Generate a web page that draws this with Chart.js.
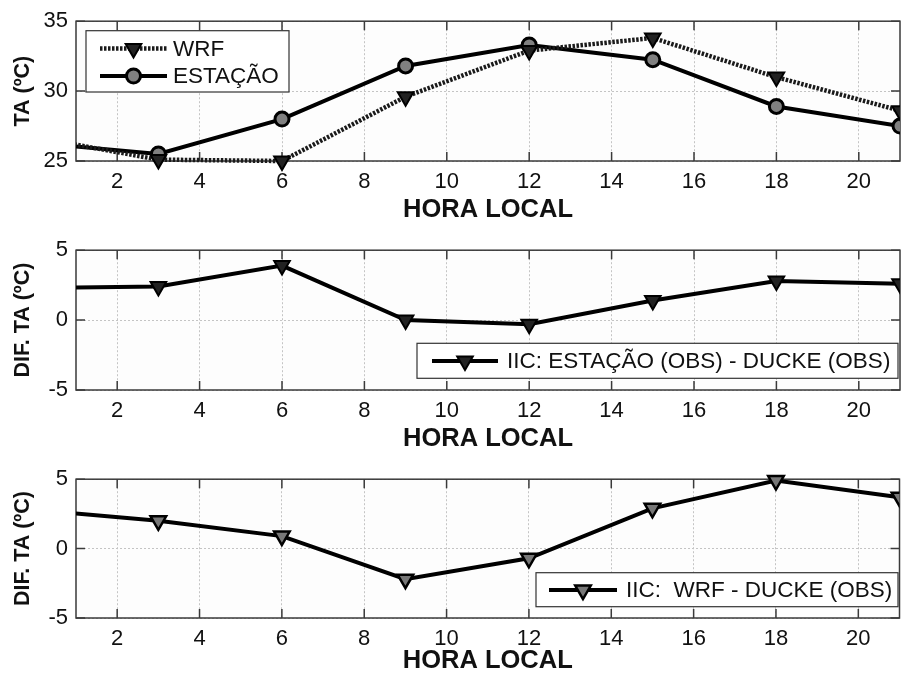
<!DOCTYPE html>
<html>
<head>
<meta charset="utf-8">
<script src="https://cdn.jsdelivr.net/npm/chart.js@4.4.1/dist/chart.umd.min.js"></script>
<style>
  html, body { margin: 0; padding: 0; background: #fff; overflow: hidden; width: 906px; height: 679px; }
  canvas { position: absolute; left: 0; }
</style>
</head>
<body>
<canvas id="c1" width="911" height="229" style="top:0"></canvas>
<canvas id="c2" width="911" height="229" style="top:229px"></canvas>
<canvas id="c3" width="911" height="221" style="top:458px"></canvas>
<script>
/* ── data ── */
const hours = [0, 3, 6, 9, 12, 15, 18, 21];
const hourTicks = [2, 4, 6, 8, 10, 12, 14, 16, 18, 20];
const taTicks = [25, 30, 35];
const difTicks = [-5, 0, 5];
const wrf = [26.7, 25.1, 25.0, 29.6, 32.9, 33.8, 31.0, 28.6];
const estacao = [26.3, 25.5, 28.0, 31.8, 33.3, 32.25, 28.9, 27.5];
const difObs = [2.3, 2.4, 3.9, 0.0, -0.3, 1.4, 2.8, 2.6];
const difWrf = [2.8, 2.0, 0.9, -2.2, -0.7, 2.9, 4.9, 3.7];

const FONT = "'Liberation Sans', Arial, sans-serif";
Chart.defaults.font.family = FONT;
Chart.defaults.color = '#111';

const pts = vals => hours.map((h, i) => ({ x: h, y: vals[i] }));

/* ── plot box, inward ticks ── */
const framePlugin = {
  id: 'frame',
  beforeDraw(chart) {
    const { ctx, chartArea: a } = chart;
    ctx.save();
    ctx.fillStyle = '#fdfdfd';
    ctx.fillRect(a.left, a.top, a.width, a.height);
    ctx.restore();
  },
  beforeDatasetsDraw(chart) {
    const { ctx, chartArea: a, scales: { x, y } } = chart;
    ctx.save();
    ctx.strokeStyle = '#3a3a3a';
    ctx.lineWidth = 1.5;
    ctx.strokeRect(a.left, a.top, a.width, a.height);
    ctx.beginPath();
    x.ticks.forEach(t => {
      const px = x.getPixelForValue(t.value);
      ctx.moveTo(px, a.top); ctx.lineTo(px, a.top + 9);
      ctx.moveTo(px, a.bottom); ctx.lineTo(px, a.bottom - 9);
    });
    y.ticks.forEach(t => {
      const py = y.getPixelForValue(t.value);
      ctx.moveTo(a.left, py); ctx.lineTo(a.left + 9, py);
      ctx.moveTo(a.right, py); ctx.lineTo(a.right - 9, py);
    });
    ctx.stroke();
    ctx.restore();
  }
};

/* ── boxed legend inside the axes ── */
const legendBox = {
  id: 'legendBox',
  afterDraw(chart, args, o) {
    if (!o.rows) return;
    const { ctx } = chart;
    ctx.save();
    ctx.fillStyle = '#fff';
    ctx.fillRect(o.x, o.y, o.w, o.h);
    ctx.strokeStyle = '#333';
    ctx.lineWidth = 1.2;
    ctx.strokeRect(o.x, o.y, o.w, o.h);
    o.rows.forEach(r => {
      const ds = chart.data.datasets[r.index];
      ctx.strokeStyle = ds.borderColor;
      ctx.lineWidth = ds.borderWidth;
      ctx.setLineDash(ds.borderDash || []);
      ctx.beginPath(); ctx.moveTo(r.x0, r.y); ctx.lineTo(r.x1, r.y); ctx.stroke();
      ctx.setLineDash([]);
      ctx.fillStyle = ds.pointBackgroundColor;
      ctx.strokeStyle = ds.pointBorderColor;
      ctx.lineWidth = ds.pointBorderWidth;
      Chart.helpers.drawPoint(ctx, {
        pointStyle: ds.pointStyle, rotation: ds.pointRotation || 0,
        radius: ds.pointRadius, borderWidth: ds.pointBorderWidth
      }, (r.x0 + r.x1) / 2, r.y);
      ctx.fillStyle = '#111';
      ctx.font = '22.5px ' + FONT;
      ctx.textBaseline = 'middle';
      ctx.fillText(ds.label, r.tx, r.y + 1);
    });
    ctx.restore();
  }
};

function xScale(h, titlePad) {
  return {
    type: 'linear', min: 1, max: 21,
    afterBuildTicks: s => { s.ticks = hourTicks.map(v => ({ value: v })); },
    afterFit: s => { s.height = h; },
    grid: { drawTicks: false, color: '#c4c4c4', lineWidth: 1 },
    border: { display: false, dash: [2, 2] },
    ticks: { padding: 8, font: { size: 22 } },
    title: { display: true, text: 'HORA LOCAL', font: { size: 25.5, weight: 'bold' }, padding: { top: 0, bottom: titlePad } }
  };
}

function yScale(min, max, ticks, title) {
  return {
    min, max,
    afterBuildTicks: s => { s.ticks = ticks.map(v => ({ value: v })); },
    afterFit: s => { s.width = 76; },
    grid: { drawTicks: false, color: '#c4c4c4', lineWidth: 1 },
    border: { display: false, dash: [2, 2] },
    ticks: { padding: 8, font: { size: 22 } },
    title: { display: true, text: title, font: { size: 21.5, weight: 'bold' }, padding: { top: 10, bottom: 0 } }
  };
}

const markerClip = { left: 0, right: 0, top: 12, bottom: 12 };

function lineSet(label, vals, style) {
  return Object.assign({
    label, data: pts(vals), tension: 0, borderColor: '#000', borderWidth: 4,
    pointBorderColor: '#000', clip: markerClip
  }, style);
}

function makeChart(id, datasets, y, xh, titlePad, legend) {
  return new Chart(document.getElementById(id), {
    type: 'line',
    data: { datasets },
    options: {
      responsive: false, animation: false,
      layout: { padding: { top: 19, right: 1, left: 0, bottom: 0 } },
      scales: { x: xScale(xh, titlePad), y },
      plugins: { legend: { display: false }, tooltip: { enabled: false }, legendBox: legend }
    },
    plugins: [framePlugin, legendBox]
  });
}

/* ── panel 1: TA ── */
makeChart('c1', [
  lineSet('WRF', wrf, {
    borderColor: '#1a1a1a', borderWidth: 4.5, borderDash: [2.5, 1.5],
    pointStyle: 'triangle', pointRotation: 180, pointRadius: 9,
    pointBackgroundColor: '#222', pointBorderWidth: 2
  }),
  lineSet('ESTAÇÃO', estacao, {
    pointStyle: 'circle', pointRadius: 7,
    pointBackgroundColor: '#808080', pointBorderWidth: 3
  })
], yScale(25, 35, taTicks, 'TA (ºC)'), 68, 4, {
  x: 86, y: 30.7, w: 203, h: 61.3,
  rows: [
    { index: 0, y: 48.5, x0: 100, x1: 167, tx: 173 },
    { index: 1, y: 76, x0: 100, x1: 167, tx: 173 }
  ]
});

/* ── panel 2: ESTAÇÃO - DUCKE ── */
makeChart('c2', [
  lineSet('IIC: ESTAÇÃO (OBS) - DUCKE (OBS)', difObs, {
    pointStyle: 'triangle', pointRotation: 180, pointRadius: 9,
    pointBackgroundColor: '#222', pointBorderWidth: 2
  })
], yScale(-5, 5, difTicks, 'DIF. TA (ºC)'), 68, 4, {
  x: 417, y: 114.3, w: 481, h: 35,
  rows: [{ index: 0, y: 132, x0: 432, x1: 498, tx: 507 }]
});

/* ── panel 3: WRF - DUCKE ── */
makeChart('c3', [
  lineSet('IIC:  WRF - DUCKE (OBS)', difWrf, {
    pointStyle: 'triangle', pointRotation: 180, pointRadius: 9,
    pointBackgroundColor: '#777', pointBorderWidth: 2.5
  })
], yScale(-5, 5, difTicks, 'DIF. TA (ºC)'), 61, 3, {
  x: 536, y: 114.7, w: 362, h: 34,
  rows: [{ index: 0, y: 132, x0: 549, x1: 617, tx: 626 }]
});
</script>
</body>
</html>
